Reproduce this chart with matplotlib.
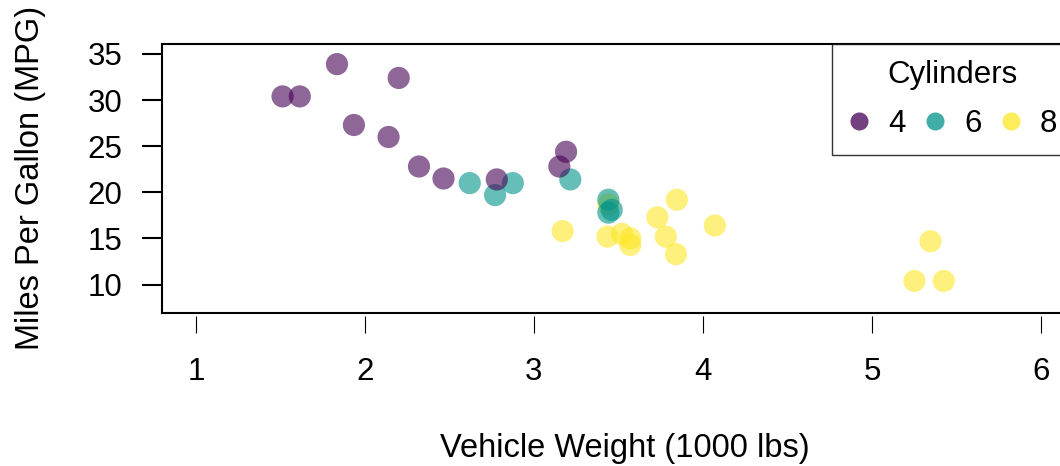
import matplotlib
matplotlib.use("Agg")
import matplotlib.pyplot as plt
from matplotlib.lines import Line2D

# mtcars: weight (1000 lbs), mpg, cylinders
wt = [2.620, 2.875, 2.320, 3.215, 3.440, 3.460, 3.570, 3.190, 3.150, 3.440,
      3.440, 4.070, 3.730, 3.780, 5.250, 5.424, 5.345, 2.200, 1.615, 1.835,
      2.465, 3.520, 3.435, 3.840, 3.845, 1.935, 2.140, 1.513, 3.170, 2.770,
      3.570, 2.780]
mpg = [21.0, 21.0, 22.8, 21.4, 18.7, 18.1, 14.3, 24.4, 22.8, 19.2,
       17.8, 16.4, 17.3, 15.2, 10.4, 10.4, 14.7, 32.4, 30.4, 33.9,
       21.5, 15.5, 15.2, 13.3, 19.2, 27.3, 26.0, 30.4, 15.8, 19.7,
       15.0, 21.4]
cyl = [6, 6, 4, 6, 8, 6, 8, 4, 4, 6,
       6, 8, 8, 8, 8, 8, 8, 4, 4, 4,
       4, 8, 8, 8, 8, 4, 4, 4, 8, 6,
       8, 4]
cyl_levels = [4, 6, 8]
cyl_colors = {4: "#440154", 6: "#00938A", 8: "#FDE725"}
xticks = [1, 2, 3, 4, 5, 6]
yticks = [10, 15, 20, 25, 30, 35]

plt.rcParams["font.family"] = ["Liberation Sans", "DejaVu Sans"]
FS = 22.5
FS_LAB = 23.5

W, H = 1060, 466
fig = plt.figure(figsize=(W / 100, H / 100), dpi=100)
left, right, top, bottom = 162, 1075, 44, 313
ax = fig.add_axes([left / W, 1 - bottom / H, (right - left) / W, (bottom - top) / H])

ax.scatter(wt, mpg, c=[cyl_colors[c] for c in cyl], s=255, alpha=0.6,
           linewidths=0, zorder=3)

ax.set_xlim(0.8, 6.2)
ax.set_ylim(6.92, 36.08)

for s in ax.spines.values():
    s.set_linewidth(1.5)

ax.set_yticks(yticks)
ax.set_yticklabels([str(v) for v in yticks], fontsize=FS)
ax.tick_params(axis="y", length=14.4, width=1.5, pad=14)

# x axis: detached thin ticks, no axis line
ax.set_xticks(xticks)
ax.set_xticklabels([str(v) for v in xticks], fontsize=FS)
ax.tick_params(axis="x", length=0, pad=32)
h = bottom - top
ax.vlines(xticks, -3 / h, -20 / h, transform=ax.get_xaxis_transform(),
          colors="black", linewidth=0.8, clip_on=False)

fig.text(625 / W, 1 - 448 / H, "Vehicle Weight (1000 lbs)", fontsize=FS_LAB,
         ha="center", va="center")
fig.text(31 / W, 1 - 178 / H, "Miles Per Gallon (MPG)", fontsize=FS_LAB,
         ha="center", va="center", rotation=90)

handles = [Line2D([], [], marker="o", linestyle="none", markersize=13,
                  markerfacecolor=cyl_colors[c], markeredgewidth=0, alpha=0.75)
           for c in cyl_levels]
leg = ax.legend(handles, [str(c) for c in cyl_levels], title="Cylinders",
                ncol=3, loc="upper left",
                bbox_to_anchor=(832 / W, 1 - 44 / H), bbox_transform=fig.transFigure,
                borderaxespad=0, fontsize=FS, title_fontsize=FS,
                frameon=True, fancybox=False, edgecolor="black",
                handlelength=0.75, handletextpad=0.55, columnspacing=0.57,
                borderpad=0.5, labelspacing=0.62)
leg.get_frame().set_linewidth(1.0)
leg.set_zorder(5)

fig.savefig("out.png", dpi=100)
